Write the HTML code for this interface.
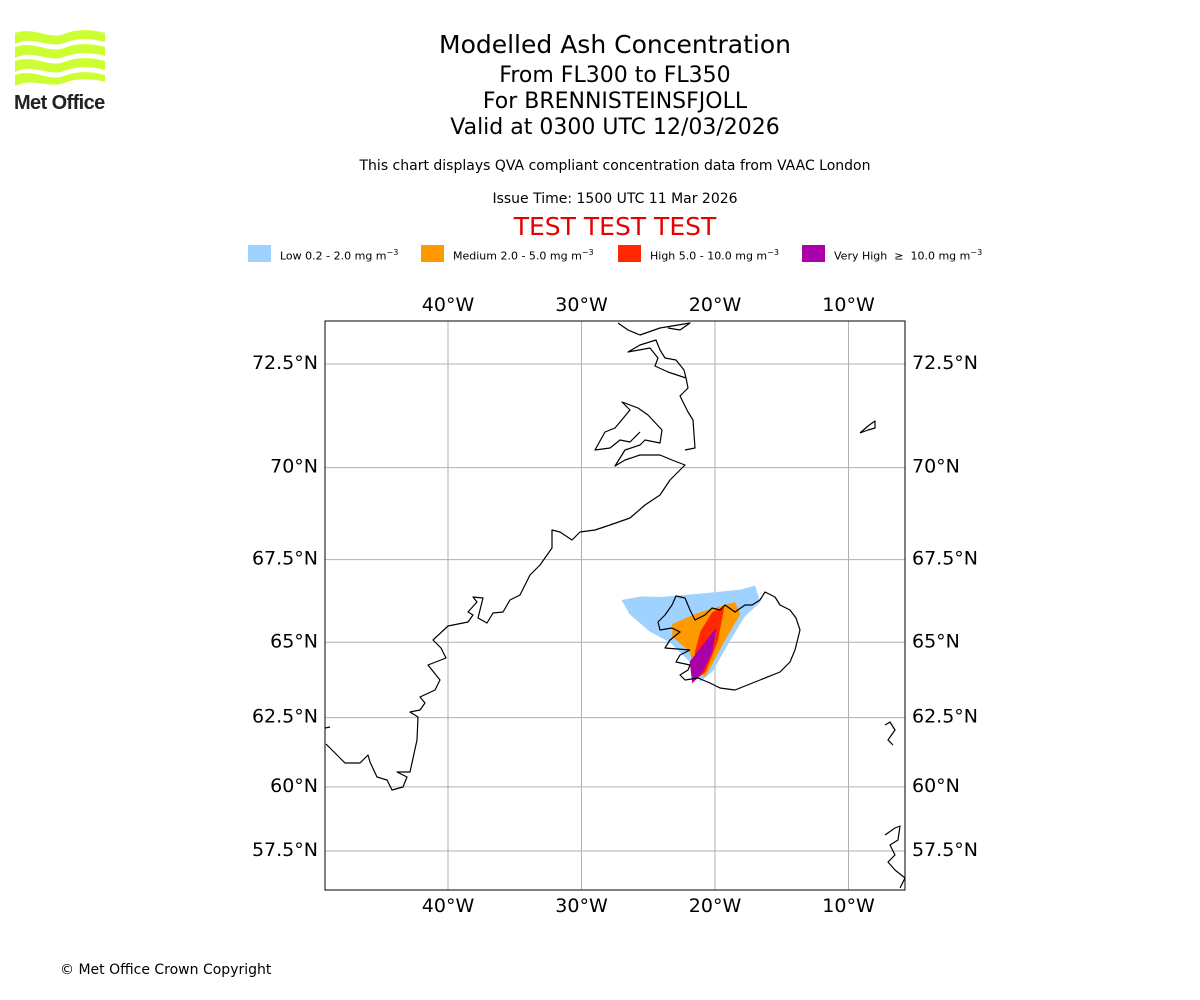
<!DOCTYPE html>
<html><head><meta charset="utf-8">
<style>
body{margin:0;background:#fff;font-family:"DejaVu Sans","Liberation Sans",sans-serif;}
#wrap{position:relative;width:1200px;height:1000px;overflow:hidden;}
.t{position:absolute;left:0;width:1230px;text-align:center;color:#000;}
.leg{position:absolute;top:244px;height:17px;font-size:11px;line-height:17px;}
.sw{position:absolute;top:245px;width:23px;height:17px;}
</style></head>
<body><div id="wrap">
<svg style="position:absolute;left:14px;top:30px" width="100" height="84">
<g fill="#ccff33">
<path d="M1,3 C20,-4 35,10 50,4 C65,-2 80,0 91,3 L91,12 C80,9 65,7 50,13 C35,19 20,5 1,14Z"/>
<path d="M1,17 C20,10 35,24 50,18 C65,12 80,14 91,17 L91,26 C80,23 65,21 50,27 C35,33 20,19 1,28Z"/>
<path d="M1,31 C20,24 35,38 50,32 C65,26 80,28 91,31 L91,40 C80,37 65,35 50,41 C35,47 20,33 1,42Z"/>
<path d="M1,45 C20,38 35,52 50,46 C65,40 80,42 91,45 L91,52 C80,49 65,47 50,53 C35,59 20,47 1,56Z"/>
</g>
<text x="0" y="79" font-family="Liberation Sans" font-weight="bold" font-size="20" fill="#222" letter-spacing="-0.6">Met Office</text>
</svg>
<div class="t" style="top:30px;font-size:25px">Modelled Ash Concentration</div>
<div class="t" style="top:63px;font-size:22px">From FL300 to FL350</div>
<div class="t" style="top:89px;font-size:22px">For BRENNISTEINSFJOLL</div>
<div class="t" style="top:115px;font-size:22px">Valid at 0300 UTC 12/03/2026</div>
<div class="t" style="top:158px;font-size:14px">This chart displays QVA compliant concentration data from VAAC London</div>
<div class="t" style="top:191px;font-size:14px">Issue Time: 1500 UTC 11 Mar 2026</div>
<div class="t" style="top:212px;font-size:25px;color:#e60000">TEST TEST TEST</div>
<div class="sw" style="left:248px;background:#a0d2ff"></div>
<div class="leg" style="left:280px">Low 0.2 - 2.0 mg m<sup style="font-size:8px">−3</sup></div>
<div class="sw" style="left:421px;background:#ff9900"></div>
<div class="leg" style="left:453px">Medium 2.0 - 5.0 mg m<sup style="font-size:8px">−3</sup></div>
<div class="sw" style="left:618px;background:#ff2800"></div>
<div class="leg" style="left:650px">High 5.0 - 10.0 mg m<sup style="font-size:8px">−3</sup></div>
<div class="sw" style="left:802px;background:#aa00aa"></div>
<div class="leg" style="left:834px">Very High &nbsp;≥&nbsp; 10.0 mg m<sup style="font-size:8px">−3</sup></div>
<svg id="map" style="position:absolute;left:0;top:0" width="1200" height="1000"></svg>
<div style="position:absolute;left:60px;top:962px;font-size:14px">© Met Office Crown Copyright</div>
</div>
<script>
const lonTicks=[-40,-30,-20,-10];
const latTicks=[72.5,70,67.5,65,62.5,60,57.5];
const lowLon=[-27.0,-25.5,-24.1,-21.1,-18.1,-17.0,-16.6,-17.8,-18.9,-20.2,-21.1,-21.9,-23.4,-24.9,-26.4];
const lowLat=[66.31,66.42,66.4,66.5,66.62,66.74,66.25,65.79,65.03,64.05,63.72,64.38,65.0,65.34,65.88];
const medLon=[-23.2,-21.1,-18.5,-18.1,-19.3,-20.7,-21.5,-21.9,-23.2];
const medLat=[65.58,65.94,66.25,65.88,65.03,63.89,64.05,64.7,65.18];
const highLon=[-21.1,-20.2,-19.3,-19.8,-20.7,-21.6,-21.5];
const highLat=[65.34,65.94,66.1,65.03,64.05,63.72,64.7];
const vhLon=[-20.7,-19.9,-20.2,-20.9,-21.7,-21.9];
const vhLat=[65.03,65.46,64.7,64.05,63.66,64.38];
const L=325,R=905,T=321,B=890;
const merc=la=>Math.log(Math.tan(Math.PI/4+la*Math.PI/360));
const ys=(851-364)/(merc(72.5)-merc(57.5));
const X=lo=>448+(lo+40)*13.35;
const Y=la=>364+(merc(72.5)-merc(la))*ys;
const svg=document.getElementById('map');const NS='http://www.w3.org/2000/svg';
function add(tag,at,parent){const e=document.createElementNS(NS,tag);for(const k in at)e.setAttribute(k,at[k]);(parent||svg).appendChild(e);return e;}
const defs=add('defs',{});const cp=add('clipPath',{id:'c'},defs);
add('rect',{x:L,y:T,width:R-L,height:B-T},cp);
const g=add('g',{'clip-path':'url(#c)'});
function poly(lons,lats,fill,name){const p=add('polygon',{points:lons.map((lo,i)=>X(lo)+','+Y(lats[i])).join(' '),fill:fill},g);

}
poly(lowLon,lowLat,'#a0d2ff','ash-low');
poly(medLon,medLat,'#ff9900','ash-medium');
poly(highLon,highLat,'#ff2800','ash-high');
poly(vhLon,vhLat,'#aa00aa','ash-very-high');
const coasts=[
"M325,728 L330,727 M326,744 L337,755 L345,763 L360,763 L368,755 L370,762 L377,777 L387,780 L392,790 L403,787 L407,777 L397,772 L410,772 L417,740 L418,717 L410,712 L420,710 L425,703 L420,697 L435,690 L440,680 L428,665 L446,658 L441,648 L433,640 L448,626 L468,622 L473,615 L468,612 L477,602 L473,597 L483,598 L478,618 L487,623 L493,613 L503,612 L510,600 L520,595 L530,575 L540,565 L552,548 L552,530 L560,532 L572,540 L580,532 L595,530 L610,525 L630,518 L645,505 L660,495 L670,480 L685,465 L672,460 L660,455 L640,455 L625,460 L615,466 L625,450 L640,445 L645,440 L660,443 L662,430 L648,415 L638,408 L622,402 L630,410 L615,428 L605,432 L595,450 L610,448 L620,440 L630,442 L640,432",
"M685,450 L695,448 L693,420 L688,412 L680,396 L688,388 L686,378 L684,370 L676,360 L665,358 L660,350 L656,340 L640,345 L628,352 L650,348 L658,358 L655,366 L668,372 L686,378",
"M618,323 L628,330 L640,335 L660,328 L678,325 L690,323 L680,330 L668,328",
"M860,433 L868,426 L875,421 L875,428 L868,430 L860,433",
"M690,650 L680,655 L676,662 L690,665 L688,670 L680,675 L685,680 L698,678 L710,683 L720,688 L735,690 L745,686 L760,680 L780,672 L790,662 L795,650 L800,630 L796,618 L790,610 L780,605 L775,597 L765,592 L760,600 L752,605 L745,605 L735,612 L725,605 L720,610 L712,608 L705,615 L695,620 L690,610 L685,598 L676,596 L672,605 L665,615 L658,622 L660,630 L672,628 L680,632 L670,640 L665,648 L690,650",
"M885,725 L890,722 L895,730 L888,740 L893,745 M885,835 L895,828 L900,826 L898,840 L890,845 L895,855 L888,862 L895,870 L905,878 L900,888"
];
coasts.forEach((d,i)=>{const p=add('path',{d:d,fill:'none',stroke:'#000','stroke-width':1.2,'stroke-linejoin':'round'},g);

});
lonTicks.forEach(lo=>{const x=X(lo);
const l=add('line',{x1:x,x2:x,y1:T,y2:B,stroke:'#b0b0b0','stroke-width':1});


[T-10,B+22].forEach(y=>{const t=add('text',{x:x,y:y,'text-anchor':'middle','font-size':19,'font-family':'DejaVu Sans, sans-serif'});t.textContent=(-lo)+'°W';

});});
latTicks.forEach(la=>{const y=Y(la);
const l=add('line',{x1:L,x2:R,y1:y,y2:y,stroke:'#b0b0b0','stroke-width':1});


const a=add('text',{x:L-7,y:y+5,'text-anchor':'end','font-size':19,'font-family':'DejaVu Sans, sans-serif'});a.textContent=la+'°N';


const b=add('text',{x:R+7,y:y+5,'text-anchor':'start','font-size':19,'font-family':'DejaVu Sans, sans-serif'});b.textContent=la+'°N';

});
svg.appendChild(g);
const fr=add('rect',{x:L,y:T,width:R-L,height:B-T,fill:'none',stroke:'#000','stroke-width':1});


</script>
</body></html>
